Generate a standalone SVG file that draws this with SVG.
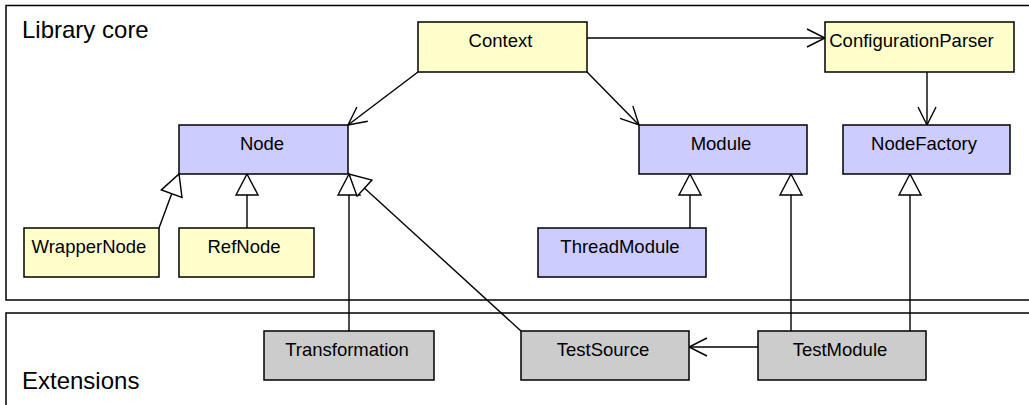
<svg xmlns="http://www.w3.org/2000/svg" width="1029" height="405" viewBox="0 0 1029 405">
<style>
.frame{fill:#fff;stroke:#000;stroke-width:1.5}
.box{stroke:#000;stroke-width:1.5}
.y{fill:#ffffcc}.b{fill:#ccccff}.g{fill:#cccccc}
.t{font-family:"Liberation Sans",Arial,sans-serif;font-size:18.5px;fill:#000;text-anchor:middle}
.lbl{font-family:"Liberation Sans",Arial,sans-serif;font-size:24px;fill:#000}
.c{fill:none;stroke:#000;stroke-width:1.4}
</style>
<defs>
<marker id="tri" viewBox="0 0 24 24" refX="22" refY="12" markerWidth="24" markerHeight="24" orient="auto" markerUnits="userSpaceOnUse" overflow="visible">
<path d="M1,1 L22,12 L1,23 Z" fill="#fff" stroke="#000" stroke-width="1.4"/>
</marker>
<marker id="open" viewBox="0 0 22 22" refX="20" refY="11" markerWidth="22" markerHeight="22" orient="auto" markerUnits="userSpaceOnUse" overflow="visible">
<path d="M2,2 L20,11 L2,20" fill="none" stroke="#000" stroke-width="1.4"/>
</marker>
</defs>
<g id="frame-core"><rect class="frame" x="6" y="5.5" width="1040" height="294.5"/><text class="lbl" x="22" y="38">Library core</text></g>
<g id="frame-ext"><rect class="frame" x="6" y="313" width="1040" height="120"/><text class="lbl" x="22" y="389">Extensions</text></g>
<g id="connectors">
<path class="c" d="M418,72 L348,125" marker-end="url(#open)"/>
<path class="c" d="M587,72 L639,125" marker-end="url(#open)"/>
<path class="c" d="M587,38 L825,38" marker-end="url(#open)"/>
<path class="c" d="M927,72 L927,125" marker-end="url(#open)"/>
<path class="c" d="M159,228 L179,174" marker-end="url(#tri)"/>
<path class="c" d="M247,228 L247,174" marker-end="url(#tri)"/>
<path class="c" d="M349,331 L349,174" marker-end="url(#tri)"/>
<path class="c" d="M521,331 L349,174" marker-end="url(#tri)"/>
<path class="c" d="M690,228 L690,174" marker-end="url(#tri)"/>
<path class="c" d="M791,331 L791,174" marker-end="url(#tri)"/>
<path class="c" d="M910,331 L910,174" marker-end="url(#tri)"/>
<path class="c" d="M758,347 L689,347" marker-end="url(#open)"/>
</g>
<g id="Context"><rect class="box y" x="418" y="22" width="169" height="50"/><text class="t" x="500.5" y="47">Context</text></g>
<g id="ConfigurationParser"><rect class="box y" x="825" y="22" width="189" height="50"/><text class="t" x="911.5" y="47">ConfigurationParser</text></g>
<g id="Node"><rect class="box b" x="179" y="125" width="169" height="49"/><text class="t" x="262" y="150">Node</text></g>
<g id="Module"><rect class="box b" x="639" y="125" width="168" height="49"/><text class="t" x="721" y="150">Module</text></g>
<g id="NodeFactory"><rect class="box b" x="843" y="125" width="167" height="49"/><text class="t" x="924" y="150">NodeFactory</text></g>
<g id="WrapperNode"><rect class="box y" x="24" y="228" width="135" height="49"/><text class="t" x="89" y="253">WrapperNode</text></g>
<g id="RefNode"><rect class="box y" x="179" y="228" width="135" height="49"/><text class="t" x="244" y="253">RefNode</text></g>
<g id="ThreadModule"><rect class="box b" x="538" y="228" width="168" height="49"/><text class="t" x="620" y="253">ThreadModule</text></g>
<g id="Transformation"><rect class="box g" x="264" y="331" width="170" height="49"/><text class="t" x="347" y="356">Transformation</text></g>
<g id="TestSource"><rect class="box g" x="521" y="331" width="168" height="49"/><text class="t" x="603" y="356">TestSource</text></g>
<g id="TestModule"><rect class="box g" x="758" y="331" width="168" height="49"/><text class="t" x="840" y="356">TestModule</text></g>
</svg>
